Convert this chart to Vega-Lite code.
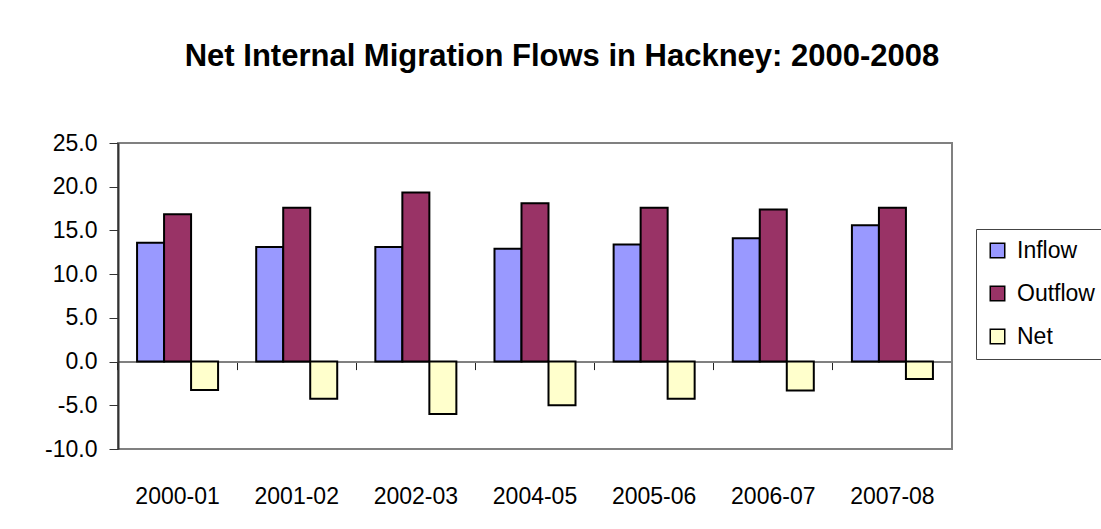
{
  "$schema": "https://vega.github.io/schema/vega-lite/v6.json",
  "width": 834,
  "height": 306,
  "autosize": {"type": "none"},
  "padding": {"left": 118, "top": 143, "right": 149, "bottom": 80},
  "background": "white",
  "config": {
    "font": "Liberation Sans",
    "view": {"stroke": "#808080", "strokeWidth": 2}
  },
  "title": {
    "text": "Net Internal Migration Flows in Hackney: 2000-2008",
    "fontSize": 31,
    "fontWeight": "bold",
    "font": "Liberation Sans",
    "color": "black",
    "anchor": "middle",
    "dx": 27,
    "offset": 59
  },
  "data": {
    "values": [
      {"period": "2000-01", "series": "Inflow", "value": 13.6},
      {"period": "2000-01", "series": "Outflow", "value": 16.85},
      {"period": "2000-01", "series": "Net", "value": -3.25},
      {"period": "2001-02", "series": "Inflow", "value": 13.1},
      {"period": "2001-02", "series": "Outflow", "value": 17.6},
      {"period": "2001-02", "series": "Net", "value": -4.25},
      {"period": "2002-03", "series": "Inflow", "value": 13.1},
      {"period": "2002-03", "series": "Outflow", "value": 19.35},
      {"period": "2002-03", "series": "Net", "value": -6.0},
      {"period": "2004-05", "series": "Inflow", "value": 12.9},
      {"period": "2004-05", "series": "Outflow", "value": 18.1},
      {"period": "2004-05", "series": "Net", "value": -5.0},
      {"period": "2005-06", "series": "Inflow", "value": 13.4},
      {"period": "2005-06", "series": "Outflow", "value": 17.6},
      {"period": "2005-06", "series": "Net", "value": -4.25},
      {"period": "2006-07", "series": "Inflow", "value": 14.1},
      {"period": "2006-07", "series": "Outflow", "value": 17.4},
      {"period": "2006-07", "series": "Net", "value": -3.3},
      {"period": "2007-08", "series": "Inflow", "value": 15.6},
      {"period": "2007-08", "series": "Outflow", "value": 17.6},
      {"period": "2007-08", "series": "Net", "value": -2.0}
    ]
  },
  "resolve": {"axis": {"x": "independent"}},
  "layer": [
    {
      "mark": {"type": "point", "opacity": 0},
      "encoding": {
        "x": {
          "field": "period", "type": "nominal", "sort": null,
          "scale": {"paddingInner": 0.32, "paddingOuter": 0.16},
          "axis": {
            "orient": "bottom",
            "offset": -87.4,
            "title": null,
            "labels": false,
            "domainColor": "#808080",
            "domainWidth": 2,
            "bandPosition": -0.2353,
            "tickColor": "#222",
            "tickSize": 8,
            "tickWidth": 1
          }
        },
        "y": {"datum": 0, "type": "quantitative"}
      }
    },
    {
      "mark": {"type": "bar", "stroke": "black", "strokeWidth": 2},
      "encoding": {
        "x": {
          "field": "period", "type": "nominal", "sort": null,
          "scale": {"paddingInner": 0.32, "paddingOuter": 0.16},
          "axis": {
            "orient": "top",
            "offset": -353,
            "title": null,
            "domain": false,
            "ticks": false,
            "labelAngle": 0,
            "labelFontSize": 23,
            "labelColor": "black",
            "labelBaseline": "middle",
            "labelPadding": 0
          }
        },
        "xOffset": {
          "field": "series", "type": "nominal",
          "sort": ["Inflow", "Outflow", "Net"],
          "scale": {"paddingInner": 0, "paddingOuter": 0}
        },
        "y": {
          "field": "value", "type": "quantitative",
          "scale": {"domain": [-10, 25], "nice": false, "zero": false},
          "axis": {
            "title": null,
            "values": [-10, -5, 0, 5, 10, 15, 20, 25],
            "labelExpr": "replace(format(datum.value, '.1f'), '\u2212', '-')",
            "grid": false,
            "domainColor": "#333",
            "domainWidth": 2,
            "tickColor": "#333",
            "tickSize": 9,
            "tickWidth": 1,
            "labelFontSize": 23,
            "labelColor": "black",
            "labelPadding": 12
          }
        },
        "color": {
          "field": "series", "type": "nominal",
          "sort": ["Inflow", "Outflow", "Net"],
          "scale": {"domain": ["Inflow", "Outflow", "Net"], "range": ["#9999FF", "#993366", "#FFFFCC"]},
          "legend": {
            "title": null,
            "orient": "none",
            "legendX": 858,
            "legendY": 86,
            "strokeColor": "#444",
            "padding": 10,
            "symbolType": "square",
            "symbolSize": 210,
            "symbolStrokeColor": "black",
            "symbolStrokeWidth": 1.5,
            "labelFontSize": 23,
            "labelColor": "black",
            "rowPadding": 19,
            "labelOffset": 8
          }
        }
      }
    }
  ]
}
